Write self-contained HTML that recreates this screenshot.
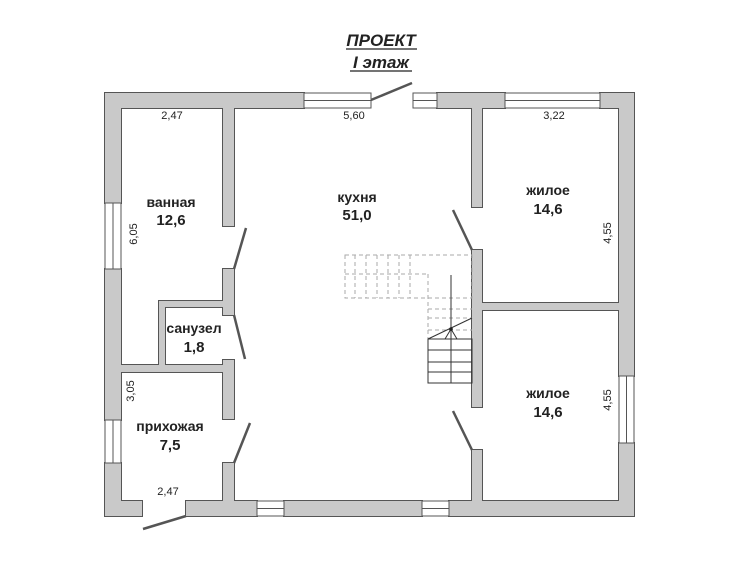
<!DOCTYPE html>
<html><head><meta charset="utf-8"><style>
html,body{margin:0;padding:0;background:#fff;width:750px;height:561px;overflow:hidden}
text{font-family:"Liberation Sans",sans-serif;fill:#222}
</style></head><body>
<svg width="750" height="561" viewBox="0 0 750 561" xmlns="http://www.w3.org/2000/svg">
<defs>
<g id="walls">
<rect x="105" y="93" width="199" height="15"/>
<rect x="437" y="93" width="68" height="15"/>
<rect x="600" y="93" width="34" height="15"/>
<rect x="105" y="93" width="16" height="110"/>
<rect x="105" y="269" width="16" height="151"/>
<rect x="105" y="463" width="16" height="53"/>
<rect x="619" y="93" width="15" height="283"/>
<rect x="619" y="443" width="15" height="73"/>
<rect x="105" y="501" width="37" height="15"/>
<rect x="186" y="501" width="71" height="15"/>
<rect x="284" y="501" width="138" height="15"/>
<rect x="449" y="501" width="185" height="15"/>
<rect x="223" y="107" width="11" height="119"/>
<rect x="223" y="269" width="11" height="46"/>
<rect x="223" y="360" width="11" height="59"/>
<rect x="223" y="463" width="11" height="39"/>
<rect x="159" y="301" width="65" height="6"/>
<rect x="159" y="301" width="6" height="64"/>
<rect x="120" y="365" width="104" height="7"/>
<rect x="472" y="107" width="10" height="100"/>
<rect x="472" y="250" width="10" height="157"/>
<rect x="472" y="450" width="10" height="52"/>
<rect x="481" y="303" width="139" height="7"/>
</g>
</defs>
<use href="#walls" fill="#c9c9c9" stroke="#555" stroke-width="2"/>
<use href="#walls" fill="#c9c9c9"/>
<g fill="#fff" stroke="#555" stroke-width="1">
<rect x="304" y="93" width="67" height="15"/><line x1="304" y1="100.5" x2="371" y2="100.5"/>
<rect x="413" y="93" width="24" height="15"/><line x1="413" y1="100.5" x2="437" y2="100.5"/>
<rect x="505" y="93" width="95" height="15"/><line x1="505" y1="100.5" x2="600" y2="100.5"/>
<rect x="105" y="203" width="16" height="66"/><line x1="113" y1="203" x2="113" y2="269"/>
<rect x="105" y="420" width="16" height="43"/><line x1="113" y1="420" x2="113" y2="463"/>
<rect x="619" y="376" width="15" height="67"/><line x1="626.5" y1="376" x2="626.5" y2="443"/>
<rect x="257" y="501" width="27" height="15"/><line x1="257" y1="508.5" x2="284" y2="508.5"/>
<rect x="422" y="501" width="27" height="15"/><line x1="422" y1="508.5" x2="449" y2="508.5"/>
</g>
<g stroke="#555" stroke-width="2.5" fill="none">
<line x1="371" y1="100" x2="412" y2="83"/>
<line x1="234" y1="269" x2="246" y2="228"/>
<line x1="234" y1="315" x2="245" y2="359"/>
<line x1="234" y1="463" x2="250" y2="423"/>
<line x1="472" y1="250" x2="453" y2="210"/>
<line x1="472" y1="450" x2="453" y2="411"/>
<line x1="186" y1="516" x2="143" y2="529"/>
</g>
<g stroke="#aaa" stroke-width="1" stroke-dasharray="4,3" fill="none">
<rect x="345" y="255" width="127" height="43"/>
<line x1="345" y1="274" x2="428" y2="274"/>
<line x1="355" y1="255" x2="355" y2="298"/><line x1="366" y1="255" x2="366" y2="298"/>
<line x1="377" y1="255" x2="377" y2="298"/><line x1="388" y1="255" x2="388" y2="298"/>
<line x1="399" y1="255" x2="399" y2="298"/><line x1="410" y1="255" x2="410" y2="298"/>
<line x1="428" y1="274" x2="428" y2="340"/>
<line x1="428" y1="309" x2="472" y2="309"/><line x1="428" y1="318" x2="472" y2="318"/>
<line x1="428" y1="330" x2="472" y2="330"/>
</g>
<g stroke="#333" stroke-width="1" fill="none">
<rect x="428" y="339" width="44" height="44"/>
<line x1="428" y1="350" x2="472" y2="350"/><line x1="428" y1="362" x2="472" y2="362"/>
<line x1="428" y1="372" x2="472" y2="372"/>
<line x1="451" y1="275" x2="451" y2="383"/>
<line x1="428" y1="339" x2="472" y2="318"/>
<line x1="451" y1="329" x2="445" y2="339"/><line x1="451" y1="329" x2="457" y2="339"/>
</g>
<circle cx="451" cy="329" r="1.8" fill="#222"/>
<g font-weight="bold" font-style="italic" font-size="17" text-anchor="middle">
<text x="381" y="46">ПРОЕКТ</text>
<text x="381" y="68">I этаж</text>
</g>
<line x1="346" y1="49" x2="417" y2="49" stroke="#222" stroke-width="1.3"/>
<line x1="350" y1="71" x2="412" y2="71" stroke="#222" stroke-width="1.3"/>
<g font-weight="bold" font-size="14" text-anchor="middle">
<text x="171" y="207">ванная</text><text x="171" y="225" font-size="15">12,6</text>
<text x="357" y="202">кухня</text><text x="357" y="220" font-size="15">51,0</text>
<text x="548" y="195">жилое</text><text x="548" y="214" font-size="15">14,6</text>
<text x="548" y="398">жилое</text><text x="548" y="417" font-size="15">14,6</text>
<text x="194" y="333">санузел</text><text x="194" y="352" font-size="15">1,8</text>
<text x="170" y="431">прихожая</text><text x="170" y="450" font-size="15">7,5</text>
</g>
<g font-size="11" text-anchor="middle">
<text x="172" y="119">2,47</text>
<text x="354" y="119">5,60</text>
<text x="554" y="119">3,22</text>
<text x="168" y="495">2,47</text>
<text transform="translate(137,234) rotate(-90)">6,05</text>
<text transform="translate(134,391) rotate(-90)">3,05</text>
<text transform="translate(611,233) rotate(-90)">4,55</text>
<text transform="translate(611,400) rotate(-90)">4,55</text>
</g>
</svg>
</body></html>
